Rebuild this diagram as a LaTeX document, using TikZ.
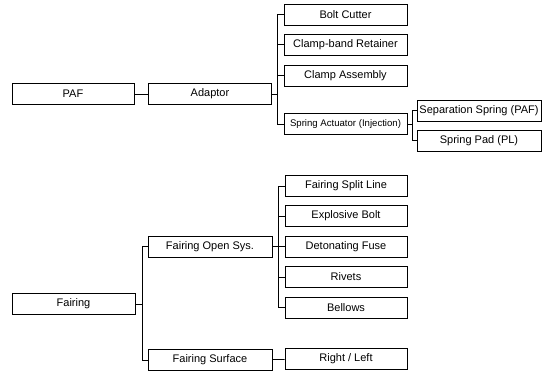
\documentclass[tikz,border=0pt]{standalone}
\usepackage{fontspec}
\setmainfont{Liberation Sans}
\begin{document}
\begin{tikzpicture}[x=1pt,y=-1pt,
  box/.style={draw=black, line width=0.75pt, minimum height=21pt, inner sep=0pt, font=\fontsize{11}{13}\selectfont},
  sbox/.style={box, font=\fontsize{9.6}{11}\selectfont},
  link/.style={line width=0.75pt}]
\useasboundingbox (0,0) rectangle (551,372);
% PAF tree
\node[box, minimum width=122pt] (paf) at (73,94) {PAF};
\node[box, minimum width=123pt] (adp) at (210,94) {Adaptor};
\node[box, minimum width=123pt] (bc) at (345.5,14.5) {Bolt Cutter};
\node[box, minimum width=123pt] (cbr) at (345.5,44.5) {Clamp-band Retainer};
\node[box, minimum width=123pt] (ca) at (345.5,75.5) {Clamp Assembly};
\node[sbox, minimum width=123pt] (sa) at (345.5,124) {Spring Actuator (Injection)};
\node[box, minimum width=124pt] (ss) at (479,110.5) {Separation Spring (PAF)};
\node[box, minimum width=124pt] (sp) at (479,140.5) {Spring Pad (PL)};
% Fairing tree
\node[box, minimum width=123pt] (fai) at (73.5,304) {Fairing};
\node[box, minimum width=124pt] (fos) at (210,246.5) {Fairing Open Sys.};
\node[box, minimum width=124pt] (fsu) at (210,360) {Fairing Surface};
\node[box, minimum width=122pt] (fsl) at (346,186) {Fairing Split Line};
\node[box, minimum width=122pt] (eb) at (346,216) {Explosive Bolt};
\node[box, minimum width=122pt] (df) at (346,246.5) {Detonating Fuse};
\node[box, minimum width=122pt] (riv) at (346,277) {Rivets};
\node[box, minimum width=122pt] (bel) at (346,307.5) {Bellows};
\node[box, minimum width=122pt] (rl) at (346,359) {Right / Left};
% connectors
\draw[link] (paf) -- (adp);
\foreach \c in {bc,cbr,ca,sa} \draw[link] (adp.east) -- ++(5,0) |- (\c.west);
\foreach \c in {ss,sp} \draw[link] (sa.east) -- ++(5,0) |- (\c.west);
\foreach \c in {fos,fsu} \draw[link] (fai.east) -- ++(6.5,0) |- (\c.west);
\foreach \c in {fsl,eb,df,riv,bel} \draw[link] (fos.east) -- ++(6,0) |- (\c.west);
\draw[link] (fsu) -- (rl);
\end{tikzpicture}
\end{document}
